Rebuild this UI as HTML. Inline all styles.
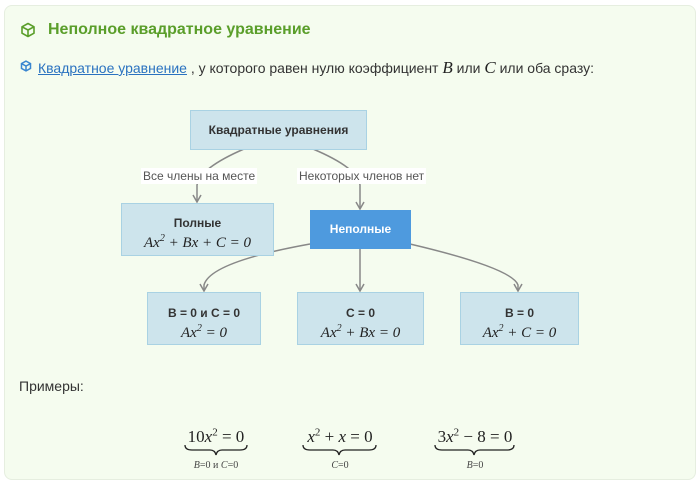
<!DOCTYPE html>
<html><head><meta charset="utf-8"><style>
body{margin:0;width:700px;height:484px;background:#fff;font-family:"Liberation Sans","DejaVu Sans",sans-serif;position:relative;overflow:hidden}
.card{position:absolute;left:4px;top:5px;width:690px;height:473px;background:#f5fcef;border:1px solid #e6eee0;border-radius:8px}
.a{position:absolute;white-space:nowrap}
.box{position:absolute;background:#cde4ec;border:1px solid #a9d2e3;box-sizing:border-box;text-align:center;color:#333;font-size:12px;font-weight:bold}
.m{font-family:"Liberation Serif",serif;font-style:italic;font-weight:normal;font-size:15px;color:#222}
.lbl{position:absolute;background:#fff;color:#555;font-size:12px;padding:1px 2px}
.ex{position:absolute;text-align:center;font-family:"Liberation Serif",serif;color:#222}
.ex .t{font-size:17px;font-style:italic}
.ex .s{font-size:10px;color:#444;font-style:italic}
</style></head><body>
<div class="card"></div>
<svg class="a" style="left:20px;top:22px" width="16" height="16" viewBox="0 0 16 16"><path d="M8 1.5L14 4.8V11.2L8 14.5L2 11.2V4.8Z M2 4.8L8 8L14 4.8 M8 8V14.5" fill="none" stroke="#5a9e2a" stroke-width="1.6" stroke-linejoin="round"/></svg>
<div class="a" style="left:48px;top:21px;font-size:16px;font-weight:bold;color:#5a9e2a">Неполное квадратное уравнение</div>
<svg class="a" style="left:20px;top:60px" width="12" height="12" viewBox="0 0 16 16"><path d="M8 1.5L14 4.8V11.2L8 14.5L2 11.2V4.8Z M2 4.8L8 8L14 4.8 M8 8V14.5" fill="none" stroke="#3a86d0" stroke-width="2"/></svg>
<div class="a" style="left:38px;top:58px;font-size:14px;color:#333"><span style="color:#2a72c0;text-decoration:underline">Квадратное уравнение</span> , у которого равен нулю коэффициент <span class="m" style="font-size:17px">B</span> или <span class="m" style="font-size:17px">C</span> или оба сразу:</div>

<svg class="a" style="left:0;top:0" width="700" height="484">
<g fill="none" stroke="#888" stroke-width="1.5">
<path d="M244 149 Q200 168 197 185 L197 202"/>
<path d="M313 149 Q358 168 360 185 L360 209"/>
<path d="M310 244 Q210 262 204 285 L204 291"/>
<path d="M360 248 L360 291"/>
<path d="M410 244 Q512 268 518 285 L518 291"/>
<path d="M193 195 L197 202 L201 195"/>
<path d="M356 202 L360 209 L364 202"/>
<path d="M200 284 L204 291 L208 284"/>
<path d="M356 284 L360 291 L364 284"/>
<path d="M514 284 L518 291 L522 284"/>
</g></svg>

<div class="box" style="left:190px;top:110px;width:177px;height:40px;line-height:38px">Квадратные уравнения</div>
<div class="lbl" style="left:141px;top:168px">Все члены на месте</div>
<div class="lbl" style="left:297px;top:168px">Некоторых членов нет</div>
<div class="box" style="left:121px;top:203px;width:153px;height:53px;padding-top:12px;line-height:15px">Полные<br><span class="m">Ax<sup style="font-size:10px">2</sup> + Bx + C = 0</span></div>
<div class="box" style="left:310px;top:210px;width:101px;height:39px;line-height:37px;background:#4e9ade;border-color:#4e9ade;color:#fff">Неполные</div>
<div class="box" style="left:147px;top:292px;width:114px;height:53px;padding-top:13px;line-height:15px">B = 0 и C = 0<br><span class="m">Ax<sup style="font-size:10px">2</sup> = 0</span></div>
<div class="box" style="left:297px;top:292px;width:127px;height:53px;padding-top:13px;line-height:15px">C = 0<br><span class="m">Ax<sup style="font-size:10px">2</sup> + Bx = 0</span></div>
<div class="box" style="left:460px;top:292px;width:119px;height:53px;padding-top:13px;line-height:15px">B = 0<br><span class="m">Ax<sup style="font-size:10px">2</sup> + C = 0</span></div>

<div class="a" style="left:19px;top:378px;font-size:14px;color:#333">Примеры:</div>

<svg class="a" style="left:0;top:0" width="700" height="484"><g fill="none" stroke="#222" stroke-width="1.3">
<path d="M185 445 Q185 450 192 450 L210 450 Q215 450 216 455 Q217 450 222 450 L240 450 Q247 450 247 445"/>
<path d="M303 445 Q303 450 310 450 L333 450 Q338 450 339 455 Q340 450 345 450 L369 450 Q376 450 376 445"/>
<path d="M435 445 Q435 450 442 450 L468 450 Q473 450 474 455 Q475 450 480 450 L507 450 Q514 450 514 445"/>
</g></svg>
<div class="ex" style="left:176px;top:426px;width:80px"><span class="t"><span style="font-style:normal">10</span>x<sup style="font-size:11px;font-style:normal">2</sup> <span style="font-style:normal">= 0</span></span></div>
<div class="ex" style="left:176px;top:455px;width:80px"><span class="s">B<span style="font-style:normal">=0 и </span>C<span style="font-style:normal">=0</span></span></div>
<div class="ex" style="left:295px;top:426px;width:90px"><span class="t">x<sup style="font-size:11px;font-style:normal">2</sup> <span style="font-style:normal">+</span> x <span style="font-style:normal">= 0</span></span></div>
<div class="ex" style="left:295px;top:455px;width:90px"><span class="s">C<span style="font-style:normal">=0</span></span></div>
<div class="ex" style="left:425px;top:426px;width:100px"><span class="t"><span style="font-style:normal">3</span>x<sup style="font-size:11px;font-style:normal">2</sup> <span style="font-style:normal">− 8 = 0</span></span></div>
<div class="ex" style="left:425px;top:455px;width:100px"><span class="s">B<span style="font-style:normal">=0</span></span></div>
</body></html>
